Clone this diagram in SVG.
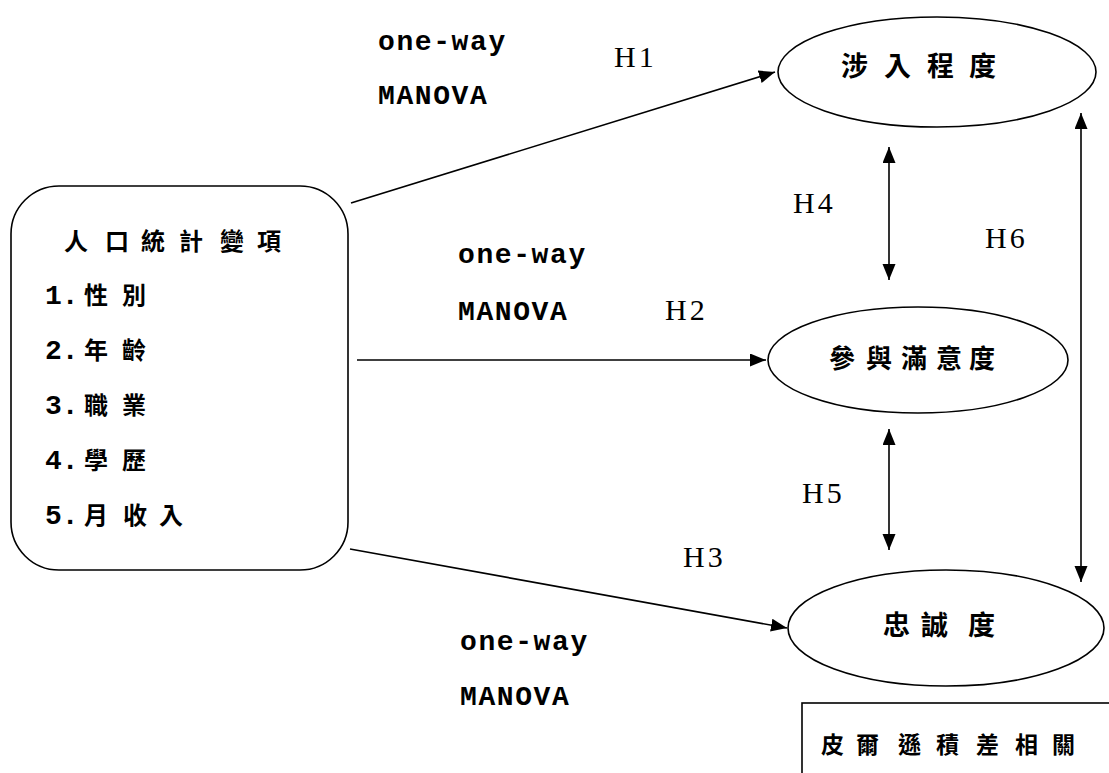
<svg xmlns="http://www.w3.org/2000/svg" width="1109" height="773" viewBox="0 0 1109 773">
<style>
.shape{fill:#fff;stroke:#000;stroke-width:1.6}
.cjk{font-family:"Noto Sans CJK TC","Noto Sans CJK SC",sans-serif;font-weight:bold;fill:#000}
.mono{font-family:"Liberation Mono",monospace;font-weight:bold;fill:#000;font-size:28px}
.lbl{font-family:"Liberation Serif",serif;fill:#000;font-size:30px;letter-spacing:3px}
.con{fill:none;stroke:#000;stroke-width:1.6}
</style>
<defs>
<marker id="ah" markerUnits="userSpaceOnUse" markerWidth="18" markerHeight="14" refX="16" refY="6.5" orient="auto-start-reverse">
<path d="M0,0 L16,6.5 L0,13 Z" fill="#000"/>
</marker>
</defs>
<rect width="1109" height="773" fill="#fff"/>
<g id="connectors">
<line class="con" x1="351" y1="203" x2="775" y2="72" marker-end="url(#ah)"/>
<line class="con" x1="357" y1="360" x2="766" y2="360" marker-end="url(#ah)"/>
<line class="con" x1="350" y1="549" x2="787" y2="628" marker-end="url(#ah)"/>
<line class="con" x1="889" y1="147" x2="889" y2="280" marker-start="url(#ah)" marker-end="url(#ah)"/>
<line class="con" x1="889" y1="429" x2="889" y2="550" marker-start="url(#ah)" marker-end="url(#ah)"/>
<line class="con" x1="1081" y1="113" x2="1081" y2="582" marker-start="url(#ah)" marker-end="url(#ah)"/>
</g>
<g id="labels">
<text class="mono" x="378" y="50" letter-spacing="1.6">one-way</text>
<text class="mono" x="378" y="104" letter-spacing="1.6">MANOVA</text>
<text class="lbl" x="614" y="67">H1</text>
<text class="lbl" x="793" y="213">H4</text>
<text class="lbl" x="985" y="248">H6</text>
<text class="mono" x="458" y="263" letter-spacing="1.6">one-way</text>
<text class="mono" x="458" y="320" letter-spacing="1.6">MANOVA</text>
<text class="lbl" x="665" y="320">H2</text>
<text class="lbl" x="802" y="503">H5</text>
<text class="lbl" x="683" y="567">H3</text>
<text class="mono" x="460" y="650" letter-spacing="1.6">one-way</text>
<text class="mono" x="460" y="705" letter-spacing="1.6">MANOVA</text>
</g>
<g id="demographics">
<rect class="shape" x="11" y="186" width="337" height="384" rx="48" ry="48"/>
<text class="cjk" font-size="24" y="250"><tspan x="64 105 141 179 220 257">人口統計變項</tspan></text>
<text y="304"><tspan class="mono" x="45">1.</tspan><tspan class="cjk" font-size="24" x="84 122">性別</tspan></text>
<text y="359"><tspan class="mono" x="45">2.</tspan><tspan class="cjk" font-size="24" x="84 122">年齡</tspan></text>
<text y="414"><tspan class="mono" x="45">3.</tspan><tspan class="cjk" font-size="24" x="84 122">職業</tspan></text>
<text y="469"><tspan class="mono" x="45">4.</tspan><tspan class="cjk" font-size="24" x="84 122">學歷</tspan></text>
<text y="524"><tspan class="mono" x="45">5.</tspan><tspan class="cjk" font-size="24" x="84 123 159">月收入</tspan></text>
</g>
<g id="involvement">
<ellipse class="shape" cx="937" cy="72" rx="159" ry="55"/>
<text class="cjk" font-size="27" y="76"><tspan x="841 884 927 969">涉入程度</tspan></text>
</g>
<g id="satisfaction">
<ellipse class="shape" cx="918" cy="360" rx="150" ry="53"/>
<text class="cjk" font-size="26" y="368"><tspan x="829 866 901 936 969">參與滿意度</tspan></text>
</g>
<g id="loyalty">
<ellipse class="shape" cx="946" cy="628" rx="158" ry="58"/>
<text class="cjk" font-size="27" y="635"><tspan x="883 921 968">忠誠度</tspan></text>
</g>
<g id="pearson">
<rect class="shape" x="802" y="703" width="320" height="90"/>
<text class="cjk" font-size="23" y="753"><tspan x="821 856 898 936 976 1015 1052">皮爾遜積差相關</tspan></text>
</g>
</svg>
